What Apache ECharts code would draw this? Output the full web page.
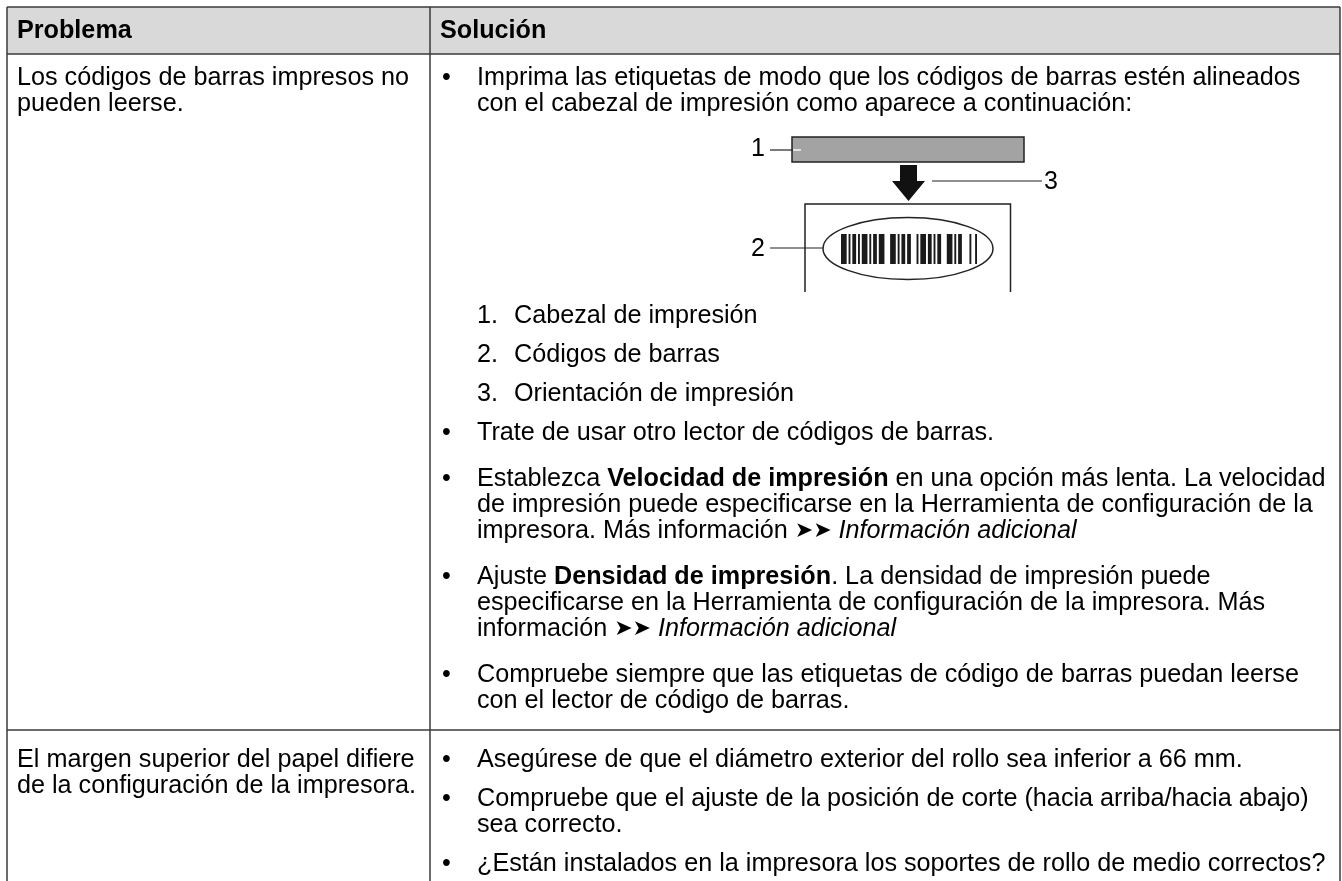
<!DOCTYPE html>
<html>
<head>
<meta charset="utf-8">
<script src="https://cdn.jsdelivr.net/npm/echarts@6/dist/echarts.min.js"></script>
<style>
html,body{margin:0;padding:0;background:#fff;}
#chart{width:1342px;height:881px;}
</style>
</head>
<body>
<div id="chart"></div>
<script>
// ---------- content ----------
const headers = ['Problema', 'Solución'];
const problem1 = ['Los códigos de barras impresos no', 'pueden leerse.'];
const problem2 = ['El margen superior del papel difiere', 'de la configuración de la impresora.'];
const introItem = ['Imprima las etiquetas de modo que los códigos de barras estén alineados', 'con el cabezal de impresión como aparece a continuación:'];
const diagramLabels = ['1', '2', '3'];
const legendItems = ['Cabezal de impresión', 'Códigos de barras', 'Orientación de impresión'];
const row1Bullets = [
  ['Trate de usar otro lector de códigos de barras.'],
  ['Establezca **Velocidad de impresión** en una opción más lenta. La velocidad',
   'de impresión puede especificarse en la Herramienta de configuración de la',
   'impresora. Más información >> //Información adicional//'],
  ['Ajuste **Densidad de impresión**. La densidad de impresión puede',
   'especificarse en la Herramienta de configuración de la impresora. Más',
   'información >> //Información adicional//'],
  ['Compruebe siempre que las etiquetas de código de barras puedan leerse',
   'con el lector de código de barras.']
];
const row2Bullets = [
  ['Asegúrese de que el diámetro exterior del rollo sea inferior a 66 mm.'],
  ['Compruebe que el ajuste de la posición de corte (hacia arriba/hacia abajo)',
   'sea correcto.'],
  ['¿Están instalados en la impresora los soportes de rollo de medio correctos?']
];
// barcode bar / gap widths (alternating bar, gap)
const barcodePattern = [3,1,1,1,2,1,1,1,3,1,1,1,2,1,3,3, 3,1,1,1,2,1,2,3, 1,1,3,1,2,1,1,1,2,3, 3,1,1,1,2,4, 1,2,1];

// ---------- style ----------
const FONT = '"Liberation Sans", Arial, Helvetica, sans-serif';
const FS = 25.2;
const LH = 26;
const GAP_NUM = 39;   // between numbered legend items
const GAP_BUL = 46;   // between bullet items, row 1
const GAP_ROW2 = 39;  // between bullet items, row 2
const TXT = '#000000';
const BORDER = '#3a3a3a';

const chart = echarts.init(document.getElementById('chart'), null, {renderer: 'canvas'});
const W = 1342, H = 881;
const X0 = 7, X1 = 430, X2 = 1340;
const Y0 = 7, YH = 54, YR = 730;
const bulletX = 442, textX = 477, numX = 477, numTextX = 514;

const els = [];

function richStyles() {
  const base = {fontFamily: FONT, fontSize: FS, fill: TXT, color: TXT};
  return {
    n: Object.assign({}, base),
    b: Object.assign({}, base, {fontWeight: 'bold'}),
    i: Object.assign({}, base, {fontStyle: 'italic'}),
    a: {fontFamily: '"DejaVu Sans", sans-serif', fontSize: 22, fill: TXT, color: TXT}
  };
}
function toRich(line) {
  const parts = line.split(/(\*\*.+?\*\*|\/\/.+?\/\/|>>)/).filter(s => s.length);
  return parts.map(p => {
    if (p.startsWith('**')) return '{b|' + p.slice(2, -2) + '}';
    if (p.startsWith('//')) return '{i|' + p.slice(2, -2) + '}';
    if (p === '>>') return '{a|\u27A4\u27A4}';
    return '{n|' + p + '}';
  }).join('');
}
function addText(str, x, y) {
  els.push({
    type: 'text', x: x, y: y, z: 10,
    style: {
      text: toRich(str), rich: richStyles(),
      fontFamily: FONT, fontSize: FS, fill: TXT,
      align: 'left', verticalAlign: 'middle'
    }
  });
}
function addPlain(str, x, y, opts) {
  opts = opts || {};
  els.push({
    type: 'text', x: x, y: y, z: 10,
    style: {
      text: str, fontFamily: FONT, fontSize: opts.size || FS, fill: TXT,
      fontWeight: opts.bold ? 'bold' : 'normal',
      align: opts.align || 'left', verticalAlign: 'middle'
    }
  });
}
function line(x1, y1, x2, y2, w, c, z) {
  els.push({type: 'line', z: z || 5, shape: {x1, y1, x2, y2},
    style: {stroke: c || BORDER, lineWidth: w || 1.5}});
}

// header
els.push({type: 'rect', z: 1, shape: {x: X0, y: Y0, width: X2 - X0, height: YH - Y0},
  style: {fill: '#d9d9d9'}});
addPlain(headers[0], X0 + 10, 31, {bold: true});
addPlain(headers[1], X1 + 10, 31, {bold: true});

// table lines
line(X0, Y0, X2, Y0);
line(X0, YH, X2, YH);
line(X0, YR, X2, YR);
line(X0, Y0, X0, H);
line(X1, Y0, X1, H);
line(X2, Y0, X2, H);

// problems
problem1.forEach((t, k) => addPlain(t, X0 + 10, 78 + k * LH));
problem2.forEach((t, k) => addPlain(t, X0 + 10, 760 + k * LH));

// row 1 solution
let y = 78;
addPlain('•', bulletX, y);
introItem.forEach((t, k) => addPlain(t, textX, y + k * LH));

// diagram
els.push({type: 'rect', z: 5, shape: {x: 792, y: 137, width: 232, height: 25},
  style: {fill: '#a3a3a3', stroke: '#222', lineWidth: 1.5}});
addPlain(diagramLabels[0], 751, 149, {size: 25});
line(770, 150, 793, 150, 1.2, '#222', 6);
line(793, 150, 801, 150, 1.4, '#ffffff', 6);
els.push({type: 'polygon', z: 5, shape: {points: [[900,165],[917,165],[917,181],[925,181],[908.5,201],[892,181],[900,181]]},
  style: {fill: '#111'}});
line(932, 181, 1042, 181, 1.2, '#222');
addPlain(diagramLabels[2], 1044, 182, {size: 25});
els.push({type: 'polyline', z: 5, shape: {points: [[805,292],[805,204],[1010.5,204],[1010.5,292]]},
  style: {stroke: '#222', lineWidth: 1.5, fill: null}});
els.push({type: 'ellipse', z: 5, shape: {cx: 908, cy: 248.5, rx: 85, ry: 31},
  style: {stroke: '#222', lineWidth: 1.5, fill: '#fff'}});
addPlain(diagramLabels[1], 751, 249, {size: 25});
line(770, 248, 823, 248, 1.2, '#222');
// barcode
(function () {
  const total = barcodePattern.reduce((a, b) => a + b, 0);
  const bx0 = 841, bx1 = 977, by0 = 234, by1 = 264;
  const s = (bx1 - bx0) / total;
  let cx = bx0;
  barcodePattern.forEach((w, k) => {
    if (k % 2 === 0) {
      els.push({type: 'rect', z: 6, shape: {x: cx, y: by0, width: w * s, height: by1 - by0},
        style: {fill: '#1a1a1a'}});
    }
    cx += w * s;
  });
})();

// legend list
y = 316;
legendItems.forEach((t, k) => {
  addPlain((k + 1) + '.', numX, y);
  addPlain(t, numTextX, y);
  if (k < legendItems.length - 1) y += GAP_NUM;
});
y += GAP_NUM;
// bullets row 1
row1Bullets.forEach(item => {
  addPlain('•', bulletX, y);
  item.forEach((t, k) => addText(t, textX, y + k * LH));
  y += (item.length - 1) * LH + GAP_BUL;
});
// row 2
y = 760;
row2Bullets.forEach(item => {
  addPlain('•', bulletX, y);
  item.forEach((t, k) => addText(t, textX, y + k * LH));
  y += (item.length - 1) * LH + GAP_ROW2;
});

chart.setOption({
  backgroundColor: '#ffffff',
  animation: false,
  graphic: {elements: els}
});
</script>
</body>
</html>
